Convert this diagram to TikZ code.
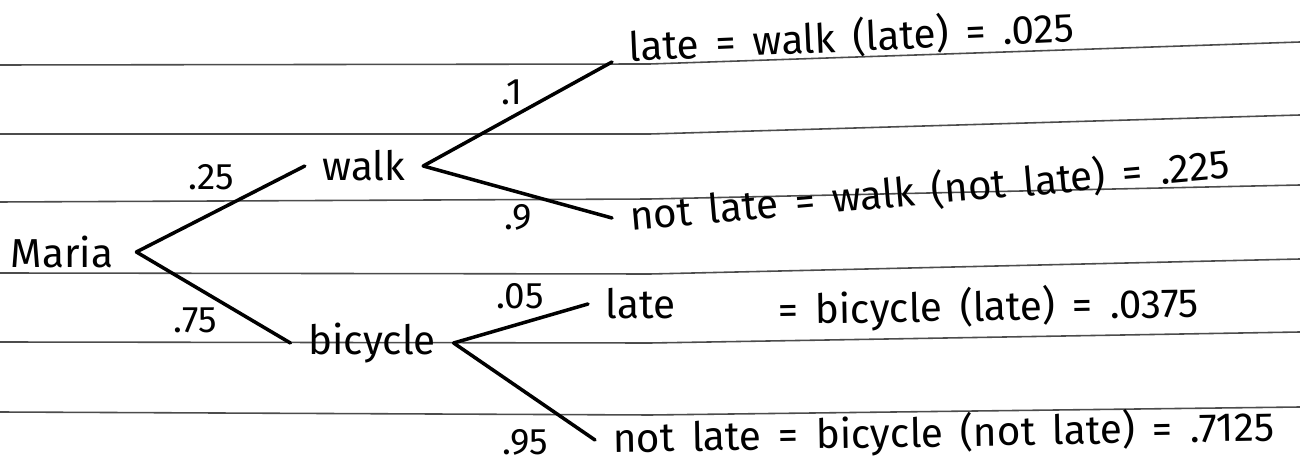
\documentclass[tikz,border=0pt]{standalone}
\usepackage{fontspec}
\setmainfont{Fira Sans}[WordSpace=1.6]
\usepackage{tikz}

\begin{document}
\begin{tikzpicture}[x=0.02cm, y=-0.02cm,
		word/.style={inner xsep=10pt, inner ysep=2pt, font=\fontsize{23}{27}\selectfont},
		prob/.style={inner sep=1pt, font=\fontsize{21}{25}\selectfont},
		branch/.style={line width=2pt, line cap=round},
		ruling/.style={black!70, line width=0.9pt}]
		\useasboundingbox (0,0) rectangle (1300,475);
		% ===== Ruled paper =====
		\fill[white] (0,0) rectangle (1300,475);
		\foreach \ya/\yb/\yc in {65/64/42, 134/134/115, 202/199/185, 273/274/259, 342/343/332, 412/415/407} {
			\draw[ruling] (0,\ya) -- (650,\yb) -- (1300,\yc);
		}
		% ===== First stage: how Maria travels =====
		\node[word, inner xsep=13pt] (maria) at (62,252) {Maria};
		\node[word] (walk) at (364,166) {walk};
		\node[word] (bicycle) at (372,343) {bicycle};
		\draw[branch] (maria.east) -- (walk.west);
		\draw[branch] (maria.east) -- (bicycle.west);
		\node[prob] (p25) at (211,177) {.25};
		\node[prob] (p75) at (195,320) {.75};
		% ===== Second stage: late or not late =====
		\node[word, anchor=base west, rotate=2.5] (wlate) at (612,62) {late = walk (late) = .025};
		\node[word, anchor=west, rotate=5] (wnot) at (612,218) {not late = walk (not late) = .225};
		\node[word, anchor=west] (blate) at (588,304) {late};
		\node[word, anchor=west, rotate=1] (blateeq) at (760,312) {= bicycle (late) = .0375};
		\node[word, anchor=west, rotate=1] (bnot) at (595,440) {not late = bicycle (not late) = .7125};
		\draw[branch] (walk.east) -- (wlate.base west);
		\draw[branch] (walk.east) -- (wnot.west);
		\draw[branch] (bicycle.east) -- (blate.west);
		\draw[branch] (bicycle.east) -- (bnot.west);
		\node[prob] (p1) at (512,92) {.1};
		\node[prob] (p9) at (518,217) {.9};
		\node[prob] (p05) at (520,296) {.05};
		\node[prob] (p95) at (525,442) {.95};
	\end{tikzpicture}
\end{document}
